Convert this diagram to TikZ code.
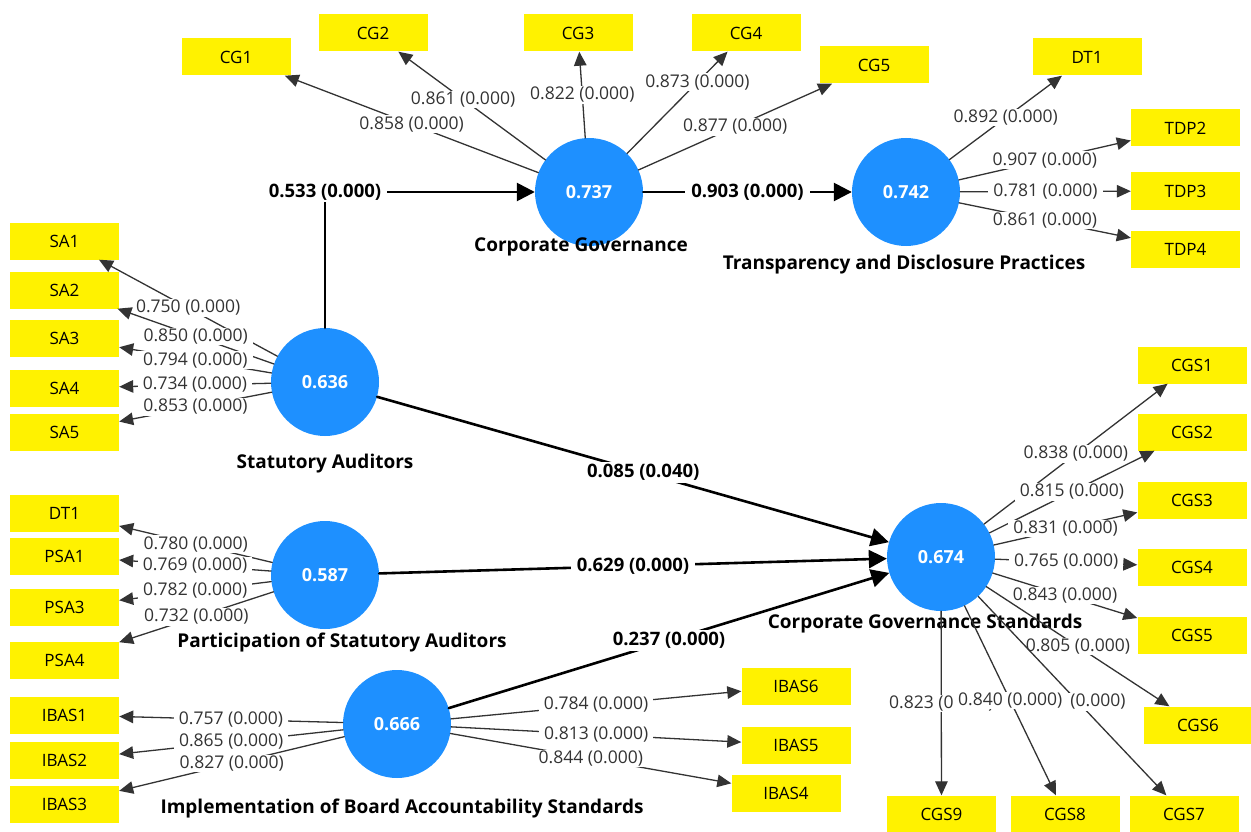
\documentclass[tikz,border=0pt]{standalone}
\usepackage{fontspec}
\setmainfont{Open Sans}
\usetikzlibrary{arrows.meta}
\definecolor{lvblue}{RGB}{30,144,255}

\begin{document}
\begin{tikzpicture}[line cap=round,line join=round,>={Triangle[length=14pt,width=12.5pt]},x=1pt,y=-1pt,
  lv/.style={circle,fill=lvblue,minimum size=108pt,inner sep=0pt,text=white,font=\fontsize{18}{20}\selectfont\bfseries},
  mv/.style={fill=yellow,minimum width=109pt,minimum height=37pt,inner sep=0pt,font=\fontsize{17}{19}\selectfont},
  lvname/.style={font=\fontsize{19}{21}\selectfont\bfseries},
  loading/.style={->,line width=1.3pt,draw=black!80},
  lw/.style={midway,fill=white,inner xsep=5pt,inner ysep=1pt,text=black!80,font=\fontsize{17.5}{19}\selectfont},
  structural/.style={->,line width=2.6pt,>={Triangle[length=18pt,width=18pt]}},
  pw/.style={midway,fill=white,inner xsep=6pt,inner ysep=2pt,font=\fontsize{18.5}{20}\selectfont\bfseries}]
\useasboundingbox (0,0) rectangle (1251,832);

% constructs
\node [lv] (cg) at (589,192) {0.737};
\node [lv] (tdp) at (906,192) {0.742};
\node [lv] (sa) at (325,382) {0.636};
\node [lv] (psa) at (325,575) {0.587};
\node [lv] (ibas) at (397,724) {0.666};
\node [lv] (cgs) at (941,557) {0.674};
\node [lvname] (cg-name) at (581,247) {Corporate Governance};
\node [lvname] (tdp-name) at (904,265) {Transparency and Disclosure Practices};
\node [lvname] (sa-name) at (325,464) {Statutory Auditors};
\node [lvname] (psa-name) at (342,643) {Participation of Statutory Auditors};
\node [lvname] (ibas-name) at (402,809) {Implementation of Board Accountability Standards};
\node [lvname] (cgs-name) at (925,624) {Corporate Governance Standards};

% indicators
\node [mv] (cg1) at (236,57) {CG1};
\node [mv] (cg2) at (373,33) {CG2};
\node [mv] (cg3) at (578,33) {CG3};
\node [mv] (cg4) at (746,33) {CG4};
\node [mv] (cg5) at (874,65) {CG5};
\node [mv] (dt1) at (1087,57) {DT1};
\foreach \i/\y in {2/128,3/191,4/249}
  \node [mv] (tdp\i) at (1185.5,\y) {TDP\i};
\foreach \i/\y in {1/241,2/290,3/338,4/388,5/432}
  \node [mv] (sa\i) at (64.5,\y) {SA\i};
\node [mv] (psa-dt1) at (64.5,513) {DT1};
\foreach \i/\y in {1/556,3/607,4/660}
  \node [mv] (psa\i) at (64.5,\y) {PSA\i};
\foreach \i/\y in {1/715,2/760,3/804}
  \node [mv] (ibas\i) at (64.5,\y) {IBAS\i};
\node [mv] (ibas6) at (796,686) {IBAS6};
\node [mv] (ibas5) at (796,745) {IBAS5};
\node [mv] (ibas4) at (786,793) {IBAS4};
\foreach \i/\y in {1/365,2/432,3/500,4/567,5/635}
  \node [mv] (cgs\i) at (1192,\y) {CGS\i};
\node [mv] (cgs6) at (1198,725) {CGS6};
\node [mv] (cgs7) at (1184,814) {CGS7};
\node [mv] (cgs8) at (1065,814) {CGS8};
\node [mv] (cgs9) at (941.5,814) {CGS9};

% outer loadings
\draw [loading] (cg) -- node[lw] {0.858 (0.000)} (cg1);
\draw [loading] (cg) -- node[lw,pos=0.56] {0.861 (0.000)} (cg2);
\draw [loading] (cg) -- node[lw] {0.822 (0.000)} (cg3);
\draw [loading] (cg) -- node[lw,pos=0.7] {0.873 (0.000)} (cg4);
\draw [loading] (cg) -- node[lw] {0.877 (0.000)} (cg5);
\draw [loading] (tdp) -- node[lw] {0.892 (0.000)} (dt1);
\draw [loading] (tdp) -- node[lw] {0.907 (0.000)} (tdp2);
\draw [loading] (tdp) -- node[lw] {0.781 (0.000)} (tdp3);
\draw [loading] (tdp) -- node[lw] {0.861 (0.000)} (tdp4);
\draw [loading] (sa) -- node[lw] {0.750 (0.000)} (sa1);
\draw [loading] (sa) -- node[lw] {0.850 (0.000)} (sa2);
\draw [loading] (sa) -- node[lw] {0.794 (0.000)} (sa3);
\draw [loading] (sa) -- node[lw] {0.734 (0.000)} (sa4);
\draw [loading] (sa) -- node[lw] {0.853 (0.000)} (sa5);
\draw [loading] (psa) -- node[lw] {0.780 (0.000)} (psa-dt1);
\draw [loading] (psa) -- node[lw] {0.769 (0.000)} (psa1);
\draw [loading] (psa) -- node[lw] {0.782 (0.000)} (psa3);
\draw [loading] (psa) -- node[lw] {0.732 (0.000)} (psa4);
\draw [loading] (ibas) -- node[lw] {0.757 (0.000)} (ibas1);
\draw [loading] (ibas) -- node[lw] {0.865 (0.000)} (ibas2);
\draw [loading] (ibas) -- node[lw] {0.827 (0.000)} (ibas3);
\draw [loading] (ibas) -- node[lw] {0.784 (0.000)} (ibas6);
\draw [loading] (ibas) -- node[lw] {0.813 (0.000)} (ibas5);
\draw [loading] (ibas) -- node[lw] {0.844 (0.000)} (ibas4);
\draw [loading] (cgs) -- node[lw] {0.838 (0.000)} (cgs1);
\draw [loading] (cgs) -- node[lw] {0.815 (0.000)} (cgs2);
\draw [loading] (cgs) -- node[lw] {0.831 (0.000)} (cgs3);
\draw [loading] (cgs) -- node[lw] {0.765 (0.000)} (cgs4);
\draw [loading] (cgs) -- node[lw] {0.843 (0.000)} (cgs5);
\draw [loading] (cgs) -- node[lw] {0.805 (0.000)} (cgs6);
\draw [loading] (cgs) -- node[lw,pos=0.53,xshift=20pt] {(0.000)} (cgs7);
\draw [loading] (cgs) -- node[lw] {0.823 (0.000)} (cgs9);
\draw [loading] (cgs) -- node[lw] {0.840 (0.000)} (cgs8);

% inner model
\draw [structural] (sa) |- node[pw] {0.533 (0.000)} (cg);
\draw [structural] (cg) -- node[pw] {0.903 (0.000)} (tdp);
\draw [structural] (sa) -- node[pw,pos=0.52] {0.085 (0.040)} (cgs);
\draw [structural] (psa) -- node[pw] {0.629 (0.000)} (cgs);
\draw [structural] (ibas) -- node[pw] {0.237 (0.000)} (cgs);
\end{tikzpicture}
\end{document}
